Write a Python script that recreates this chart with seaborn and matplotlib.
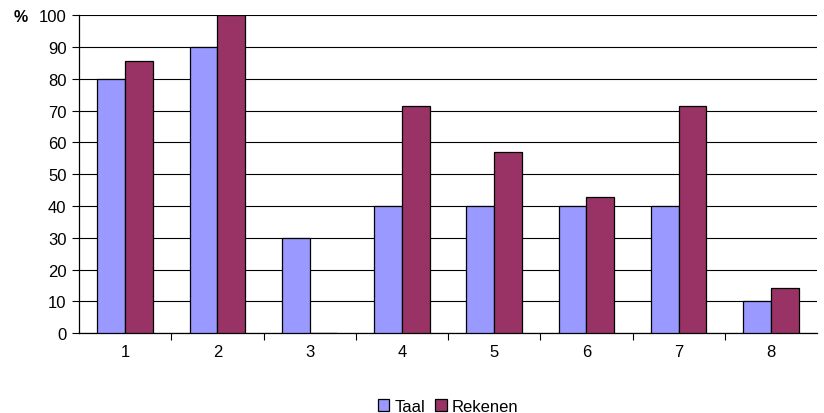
import pandas as pd
import seaborn as sns
import matplotlib.pyplot as plt
from matplotlib.ticker import MultipleLocator, FixedLocator

# Data
categories = ["1", "2", "3", "4", "5", "6", "7", "8"]
taal = [80, 90, 30, 40, 40, 40, 40, 10]
rekenen = [85.7, 100, 0, 71.4, 57.1, 42.9, 71.4, 14.3]
series_names = ["Taal", "Rekenen"]
colors = ["#9999FF", "#993366"]

df = pd.DataFrame({
    "cat": categories * 2,
    "value": taal + rekenen,
    "serie": [series_names[0]] * len(categories) + [series_names[1]] * len(categories),
})

sns.set_style("white")
plt.rcParams['font.family'] = ['Liberation Sans', 'DejaVu Sans']
plt.rcParams['text.color'] = "black"
plt.rcParams['xtick.color'] = "black"
plt.rcParams['ytick.color'] = "black"

fig = plt.figure(figsize=(8.24, 4.14), dpi=100)
ax = fig.add_axes([0.0959, 0.193, 0.8956, 0.768])

sns.barplot(data=df, x="cat", y="value", hue="serie", palette=colors,
            order=categories, hue_order=series_names, width=0.6, saturation=1,
            edgecolor="black", linewidth=0.9, ax=ax, legend=True, zorder=3)

ax.set_ylim(0, 100)
ax.set_xlim(-0.5, len(categories) - 0.5)
ax.yaxis.set_major_locator(MultipleLocator(10))
ax.yaxis.grid(True, color="black", linewidth=0.8, zorder=0)
ax.set_axisbelow(True)

# ticks on category boundaries, labels in the middle
ax.xaxis.set_minor_locator(FixedLocator([i + 0.5 for i in range(len(categories) - 1)]))
ax.tick_params(axis="x", which="major", length=0, labelsize=12, pad=8, labelcolor="black")
ax.tick_params(axis="x", which="minor", length=5, width=0.8, direction="out", bottom=True)
ax.tick_params(axis="y", which="major", length=5, width=0.8, direction="out", left=True,
               labelsize=12, pad=4, labelcolor="black")

for s in ["top", "right"]:
    ax.spines[s].set_visible(False)
for s in ["left", "bottom"]:
    ax.spines[s].set_color("black")
    ax.spines[s].set_linewidth(0.9)

ax.set_xlabel("")
ax.set_ylabel("")
fig.text(0.017, 0.958, "%", fontsize=11.5, fontweight="bold", va="center", color="black")

leg = ax.legend(loc="center", bbox_to_anchor=(0.5, -0.23), ncol=2, frameon=False,
                fontsize=12, handlelength=0.7, handleheight=0.7,
                handletextpad=0.3, columnspacing=0.6)
for h in leg.legend_handles:
    h.set_edgecolor("black")
for t in leg.get_texts():
    t.set_color("black")

fig.savefig("out.png", dpi=100)
